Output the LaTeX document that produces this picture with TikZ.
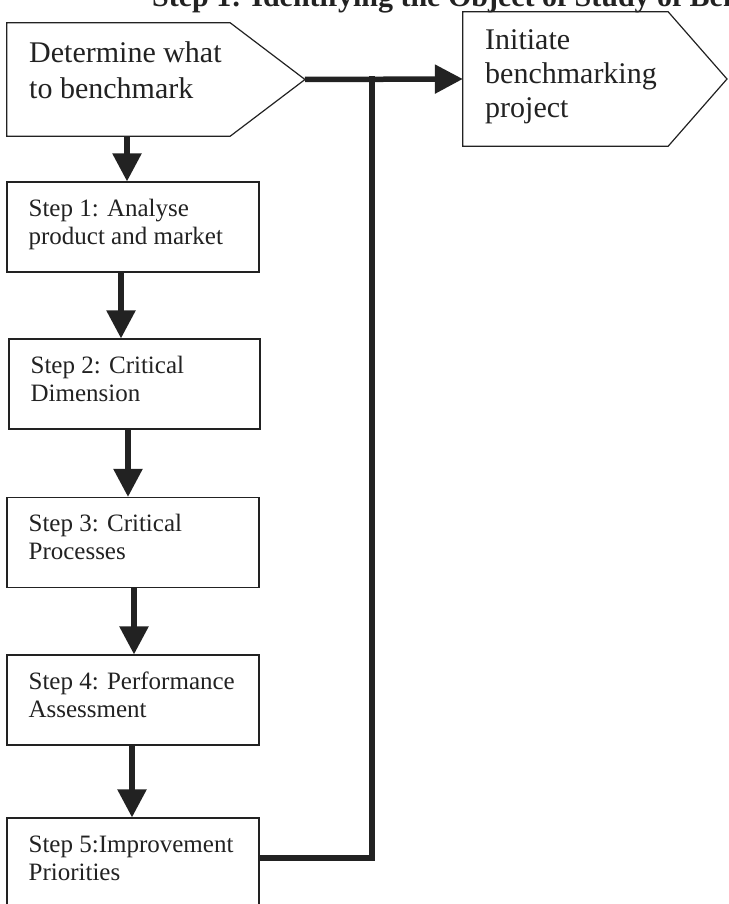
\documentclass[tikz,border=0pt]{standalone}
\usepackage{fontspec}
\setmainfont{Liberation Serif}
\usetikzlibrary{arrows.meta}
\definecolor{ink}{HTML}{222222}
\begin{document}
\begin{tikzpicture}[x=1pt,y=-1pt,
  boxline/.style={draw=ink,line width=1.2pt},
  stepbox/.style={boxline,rectangle,minimum width=252pt,minimum height=90pt,inner sep=0pt},
  steptext/.style={anchor=base west,align=left,inner sep=0pt,text=ink,font=\fontsize{25}{28}\selectfont},
  bigtext/.style={anchor=base west,align=left,inner sep=0pt,text=ink,font=\fontsize{30}{35}\selectfont},
  conn/.style={draw=ink,line width=5.5pt,-{Triangle[width=28pt,length=28pt]}},
  link/.style={draw=ink,line width=5.5pt}]
\useasboundingbox (0,0) rectangle (728,904);
\clip (0,0) rectangle (728,904);
\fill[white] (0,0) rectangle (728,904);

% partly visible title
\node[anchor=base west,inner sep=0pt,text=ink,font=\fontsize{30}{36}\selectfont\bfseries] (title) at (152,7) {Step 1: Identifying the Object of Study of Benchmarking};

% pentagon boxes
\node[minimum width=223pt,minimum height=113pt,inner sep=0pt] (det) at (118.5,79.5) {};
\coordinate (dettip) at (305,79.5);
\draw[boxline,line join=miter] (det.north west) -- (det.north east) -- (dettip) -- (det.south east) -- (det.south west) -- cycle;
\node[bigtext,font=\fontsize{30}{36}\selectfont] (dettext) at (29,99) {Determine what\\to benchmark};

\node[minimum width=205pt,minimum height=134pt,inner sep=0pt] (ini) at (565.5,79) {};
\coordinate (initip) at (727,79);
\draw[boxline,line join=miter] (ini.north west) -- (ini.north east) -- (initip) -- (ini.south east) -- (ini.south west) -- cycle;
\node[bigtext,font=\fontsize{30}{34}\selectfont] (initext) at (485,118) {Initiate\\benchmarking\\project};

% step boxes
\node[stepbox] (s1) at (133,227) {};
\node[stepbox,minimum width=251pt] (s2) at (134.5,384) {};
\node[stepbox] (s3) at (133,542.5) {};
\node[stepbox] (s4) at (133,700) {};
\node[stepbox] (s5) at (133,863) {};

\node[steptext] (t1) at ([xshift=22pt,yshift=-63pt]s1.north west) {Step 1: Analyse\\product and market};
\node[steptext] (t2) at ([xshift=22pt,yshift=-63pt]s2.north west) {Step 2: Critical\\Dimension};
\node[steptext] (t3) at ([xshift=22pt,yshift=-63pt]s3.north west) {Step 3: Critical\\Processes};
\node[steptext] (t4) at ([xshift=22pt,yshift=-63pt]s4.north west) {Step 4: Performance\\Assessment};
\node[steptext] (t5) at ([xshift=22pt,yshift=-63pt]s5.north west) {Step 5:Improvement\\Priorities};

% vertical flow arrows
\draw[conn] ([xshift=8.5pt]det.south) -- ([xshift=-6pt]s1.north);
\draw[conn] ([xshift=-12pt]s1.south) -- ([xshift=-13.5pt]s2.north);
\draw[conn] ([xshift=-6.5pt]s2.south) -- ([xshift=-5pt]s3.north);
\draw[conn] ([xshift=1pt]s3.south) -- ([xshift=1pt]s4.north);
\draw[conn] ([xshift=-1pt]s4.south) -- ([xshift=-1pt]s5.north);

% feedback / forward connectors
\coordinate (jtop) at (372,79);
\coordinate (jbot) at (372,858);
\draw[conn] (dettip) -- (ini.west);
\draw[link,line join=miter] ([yshift=5pt]s5.east) -- (jbot) -- ([yshift=2.75pt]jtop);
\end{tikzpicture}
\end{document}
